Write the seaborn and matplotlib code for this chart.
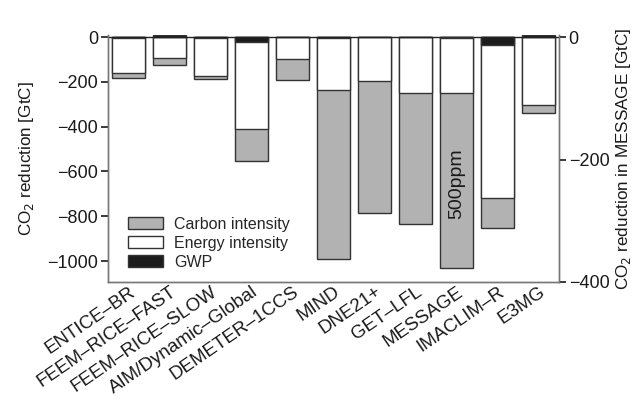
import numpy as np
import pandas as pd
import matplotlib
matplotlib.use("Agg")
import matplotlib.pyplot as plt
from matplotlib.patches import Patch
import seaborn as sns

models = ["ENTICE–BR", "FEEM–RICE–FAST", "FEEM–RICE–SLOW", "AIM/Dynamic–Global",
          "DEMETER–1CCS", "MIND", "DNE21+", "GET–LFL", "MESSAGE", "IMACLIM–R", "E3MG"]
# left-axis models (GtC); MESSAGE is plotted on the right axis
gwp = [-2, 10, -2, -20, 0, -2, -1, -1, np.nan, -37, 8]
energy = [-160, -92, -172, -390, -97, -232, -194, -248, np.nan, -682, -301]
carbon = [-20, -33, -12, -143, -94, -756, -590, -585, np.nan, -134, -40]
# MESSAGE (500ppm) on right axis, GtC
msg_model = ["MESSAGE"]
msg_gwp = [-1]
msg_energy = [-90]
msg_carbon = [-287]

sns.set_theme(style="white")
plt.rcParams['font.family'] = ['Liberation Sans', 'DejaVu Sans']

GRAY = "#b2b2b2"
WHITE = "#ffffff"
BLACK = "#1c1c1c"
EDGE = "#333333"
TXT = "#1a1a1a"


def stack(g, e, c):
    g = np.asarray(g, float)
    e = np.asarray(e, float)
    c = np.asarray(c, float)
    white_end = np.minimum(g, 0) + e
    gray_end = white_end + c
    return g, white_end, gray_end


g, w, gr = stack(gwp, energy, carbon)
df = pd.DataFrame({"model": models, "gwp": g, "white": w, "gray": gr}).dropna()
mg, mw, mgr = stack(msg_gwp, msg_energy, msg_carbon)
dfm = pd.DataFrame({"model": msg_model, "gwp": mg, "white": mw, "gray": mgr})

fig = plt.figure(figsize=(6.37, 4.01), dpi=100)
ax = fig.add_axes([0.1695, 0.297, 0.708, 0.616])
ax2 = ax.twinx()

kw = dict(order=models, errorbar=None, saturation=1, width=0.8,
          edgecolor=EDGE, linewidth=1.0)
for axx, d in ((ax, df), (ax2, dfm)):
    sns.barplot(data=d, x="model", y="gray", color=GRAY, ax=axx, **kw)
    sns.barplot(data=d, x="model", y="white", color=WHITE, ax=axx, **kw)
    sns.barplot(data=d, x="model", y="gwp", color=BLACK, ax=axx, **kw)

ax.set_xlim(-0.5, len(models) - 0.5)
ax.set_ylim(-1093, 10)
ax2.set_ylim(-400, 3.66)
ax.axhline(0, color="#222222", lw=1.0, zorder=5)

ax.set_yticks([0, -200, -400, -600, -800, -1000])
ax2.set_yticks([0, -200, -400])
ax.set_xlabel("")
ax2.set_xlabel("")
ax.set_ylabel("CO$_2$ reduction [GtC]", fontsize=12.3, color=TXT, labelpad=8)
ax2.set_ylabel("CO$_2$ reduction in MESSAGE [GtC]", fontsize=12.3, color=TXT, labelpad=3)

ax.set_xticks(range(len(models)))
ax.set_xticklabels(models, rotation=34.5, ha="right", rotation_mode="anchor", fontsize=13.5,
                   color=TXT)
ax.tick_params(axis="x", direction="in", length=3, pad=1, color="#666666")
ax.tick_params(axis="y", direction="out", length=5, pad=2, labelsize=13,
               color="#222222", labelcolor=TXT, left=True)
ax2.tick_params(axis="y", direction="out", length=5, pad=2, labelsize=13,
                color="#222222", labelcolor=TXT, right=True)

for a in (ax, ax2):
    a.spines["top"].set_visible(False)
    for s in ("left", "right", "bottom"):
        a.spines[s].set_color("#777777")
        a.spines[s].set_linewidth(1.0)

ax2.text(8, -240, "500ppm", rotation=90, ha="center", va="center",
         fontsize=14, color=TXT)

handles = [Patch(facecolor=GRAY, edgecolor=EDGE, label="Carbon intensity"),
           Patch(facecolor=WHITE, edgecolor=EDGE, label="Energy intensity"),
           Patch(facecolor=BLACK, edgecolor=EDGE, label="GWP")]
ax.legend(handles=handles, loc="lower left", bbox_to_anchor=(0.044, 0.05), frameon=False,
          fontsize=11.5, handlelength=2.2, handleheight=0.8, handletextpad=0.7,
          labelspacing=0.25, borderaxespad=0, borderpad=0)

fig.savefig("out.png", dpi=100)
